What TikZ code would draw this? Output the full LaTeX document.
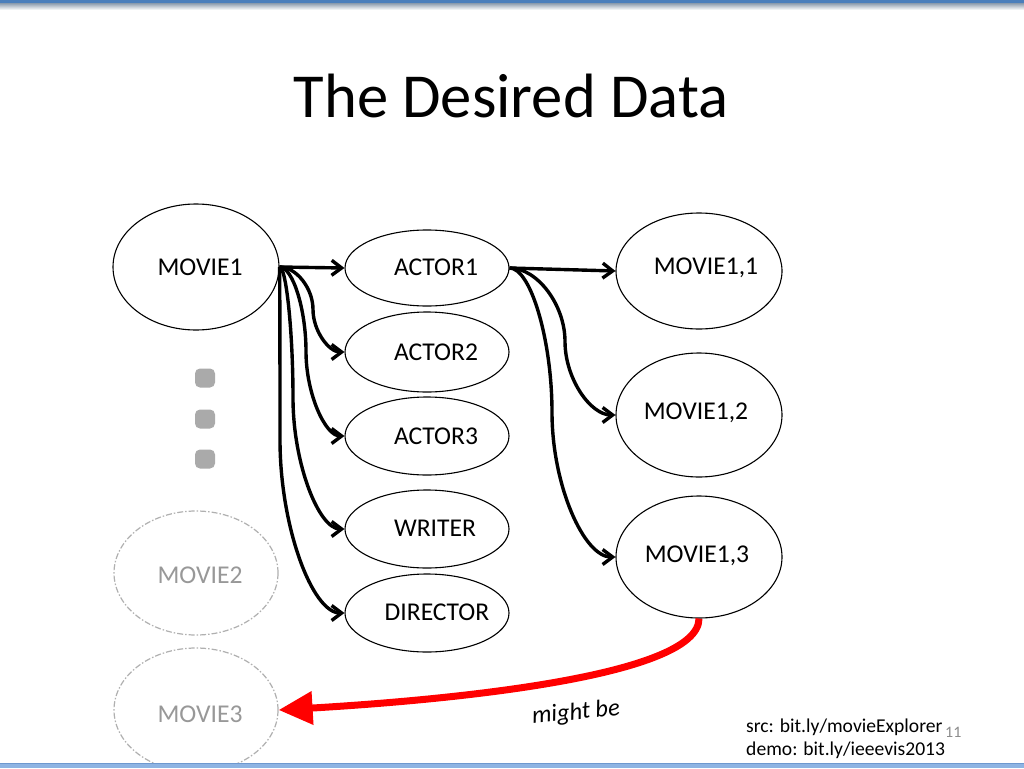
\documentclass[tikz,border=0pt]{standalone}
\usepackage{fontspec}
\setmainfont{Carlito}
\usetikzlibrary{shapes.geometric,arrows.meta,calc}
\definecolor{topblue}{HTML}{4A7EBB}
\definecolor{topgray}{HTML}{9AA8B8}
\definecolor{botblue}{HTML}{8EB4E3}
\definecolor{botline}{HTML}{6E98CF}
\definecolor{ghostline}{HTML}{B0B0B0}
\definecolor{ghosttext}{HTML}{989898}
\definecolor{dotgray}{HTML}{AAAAAA}
\definecolor{pagegray}{HTML}{8C8C8C}
\newcommand{\lblfont}{\fontsize{25.6}{30}\selectfont}
\begin{document}
\begin{tikzpicture}[x=1pt,y=-1pt,
  ell/.style={ellipse, draw, line width=1.1pt, inner sep=0pt},
  ghost/.style={ellipse, draw=ghostline, line width=1.2pt, dash pattern=on 6pt off 2pt on 1.5pt off 2pt, inner sep=0pt},
  lbl/.style={font=\lblfont, inner sep=0pt},
  ghostlbl/.style={font=\lblfont, inner sep=0pt, text=ghosttext},
  dotbox/.style={rectangle, rounded corners=5pt, fill=dotgray, minimum width=20pt, minimum height=19pt, inner sep=0pt},
  blk/.style={line width=3.4pt, -{Straight Barb[length=10pt,width=15pt]}},
  ccon/.style={to path={let \p1=(\tikztostart), \p2=(\tikztotarget) in
     .. controls ({(\x1+#1)/2},\y1) and (#1,{\y1+(\y2-\y1)/4}) .. (#1,{(\y1+\y2)/2})
     .. controls (#1,{\y1+3*(\y2-\y1)/4}) and ({(#1+\x2)/2},\y2) .. (\p2) \tikztonodes}}
]
\useasboundingbox (0,0) rectangle (1024,768);
\fill[white] (0,0) rectangle (1024,768);
% top bar
\fill[topblue] (0,0) rectangle (1024,4);
\shade[top color=topgray, bottom color=white] (0,4) rectangle (1024,10);

% title
\node[anchor=base, font=\fontsize{62.6}{70}\selectfont] (title) at (511,117) {The Desired Data};

% ellipses
\node[ell, minimum width=166pt, minimum height=126pt] (m1) at (196,267) {};
\node[ell, minimum width=164pt, minimum height=76pt] (a1) at (427,268) {};
\node[ell, minimum width=164pt, minimum height=80pt] (a2) at (427,352) {};
\node[ell, minimum width=164pt, minimum height=78pt] (a3) at (427,436) {};
\node[ell, minimum width=164pt, minimum height=78pt] (wr) at (427,529) {};
\node[ell, minimum width=164pt, minimum height=78pt] (dr) at (427,613) {};
\node[ell, minimum width=166pt, minimum height=116pt] (m11) at (699,271) {};
\node[ell, minimum width=166pt, minimum height=124pt] (m12) at (699,415) {};
\node[ell, minimum width=166pt, minimum height=122pt] (m13) at (699,557) {};
\node[ghost, minimum width=164pt, minimum height=124pt] (m2) at (196,573) {};
\begin{scope}
\clip (0,0) rectangle (1024,763);
\node[ghost, minimum width=164pt, minimum height=124pt] (m3) at (196,710) {};
\end{scope}

% labels
\node[lbl] (m1t) at (200,267) {MOVIE1};
\node[lbl] (a1t) at (436,267) {ACTOR1};
\node[lbl] (a2t) at (436,352) {ACTOR2};
\node[lbl] (a3t) at (436,436) {ACTOR3};
\node[lbl] (wrt) at (435,528) {WRITER};
\node[lbl] (drt) at (437,612) {DIRECTOR};
\node[lbl] (m11t) at (706,268) {MOVIE1,1};
\node[lbl] (m12t) at (696,413) {MOVIE1,2};
\node[lbl] (m13t) at (697,556) {MOVIE1,3};
\node[ghostlbl] (m2t) at (200,575) {MOVIE2};
\node[ghostlbl] (m3t) at (200,714) {MOVIE3};

% dots
\node[dotbox] (d1) at (205,378) {};
\node[dotbox] (d2) at (205,419) {};
\node[dotbox] (d3) at (205,459) {};

% black connectors
\coordinate (s1) at (m1.east);
\coordinate (s2) at (a1.east);
\draw[blk] (s1) -- (a1.west);
\draw[blk] (s1) to[ccon=313pt] (a2.west);
\draw[blk] (s1) to[ccon=306pt] (a3.west);
\draw[blk] (s1) to[ccon=293pt] (wr.west);
\draw[blk] (s1) to[ccon=280pt] (dr.west);
\draw[blk] (s2) -- (m11.west);
\draw[blk] (s2) to[ccon=565pt] (m12.west);
\draw[blk] (s2) to[ccon=552pt] (m13.west);

% red connector
\draw[red, line width=7pt, -{Triangle[length=34pt,width=32pt]}]
  (m13.south) .. controls ($(m13.south)+(0,58)$) and ($(m3.east)+(170,-10)$) .. (m3.east);
\node[font=\itshape\fontsize{24.5}{28}\selectfont, rotate=6] (mb) at (576,713) {might be};

% bottom bar
\fill[botblue] (0,763) rectangle (1024,768);
\draw[botline, line width=0.8pt] (0,763) -- (1024,763);

% sources
\node[anchor=base west, font=\fontsize{19.6}{23}\selectfont, inner sep=0pt] (src1) at (746,732) {src: bit.ly/movieExplorer};
\node[anchor=base west, font=\fontsize{19.6}{23}\selectfont, inner sep=0pt] (src2) at (746,755) {demo: bit.ly/ieeevis2013};
\node[anchor=base west, font=\fontsize{16}{18}\selectfont, inner sep=0pt, text=pagegray] (pg) at (945,737) {11};
\end{tikzpicture}
\end{document}
